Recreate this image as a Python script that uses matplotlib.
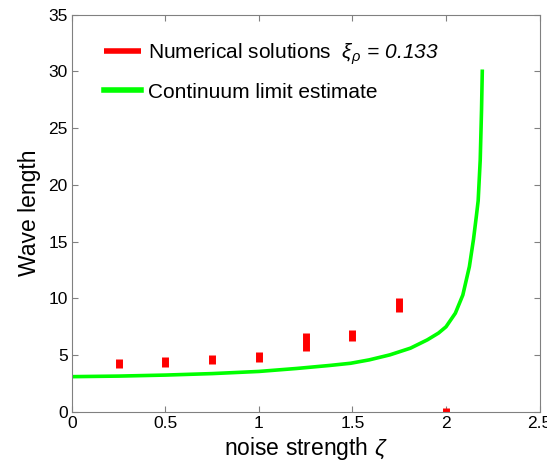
import numpy as np
import matplotlib.pyplot as plt

plt.rcParams['font.family'] = ['Liberation Sans', 'DejaVu Sans']
plt.rcParams['mathtext.fontset'] = 'custom'
plt.rcParams['mathtext.it'] = 'Liberation Sans:italic'
plt.rcParams['mathtext.rm'] = 'Liberation Sans:italic'

# numerical solutions: noise strength and wave length range (low, high)
zeta_num = [0.25, 0.5, 0.75, 1.0, 1.25, 1.5, 1.75, 2.0]
wl_low = [3.85, 3.94, 4.21, 4.41, 5.35, 6.26, 8.79, 0.0]
wl_high = [4.65, 4.88, 5.05, 5.29, 6.99, 7.26, 10.08, 0.33]

# continuum limit estimate
zeta_cont = [0.0, 0.25, 0.5, 0.75, 1.0, 1.2, 1.38, 1.49, 1.59, 1.7, 1.81, 1.9,
             1.96, 2.0, 2.05, 2.09, 2.125, 2.147, 2.162, 2.172, 2.183, 2.19, 2.194]
wl_cont = [3.11, 3.16, 3.25, 3.38, 3.57, 3.83, 4.1, 4.29, 4.59, 5.03, 5.62, 6.35,
           6.95, 7.5, 8.7, 10.3, 12.8, 15.2, 17.2, 18.6, 22.2, 26.6, 30.0]

fig = plt.figure(figsize=(5.47, 4.68), dpi=100)
ax = fig.add_axes([0.1316, 0.1197, 0.8547, 0.8493])

ax.vlines(zeta_num, wl_low, wl_high, color='#ff0000', lw=5,
          label=r'Numerical solutions  $\xi_\rho\,=\,0.133$')
ax.plot(zeta_cont, wl_cont, color='#00ff00', lw=2.6, solid_joinstyle='round',
        label='Continuum limit estimate')

ax.set_xlim(0, 2.5)
ax.set_ylim(0, 35)
ax.set_xticks([0, 0.5, 1, 1.5, 2, 2.5])
ax.set_xticklabels(['0', '0.5', '1', '1.5', '2', '2.5'])
ax.set_yticks(range(0, 36, 5))
ax.tick_params(direction='in', top=True, right=True, labelsize=12.5,
               length=4, color='#808080', pad=3)
for s in ax.spines.values():
    s.set_color('#808080')

ax.set_xlabel(r'noise strength $\zeta$', fontsize=16.5, labelpad=3)
ax.set_ylabel('Wave length', fontsize=16.5, labelpad=5)

leg = ax.legend(loc='upper left', frameon=False, fontsize=15,
                bbox_to_anchor=(0.068, 0.932), borderaxespad=0, borderpad=0,
                handlelength=1.8, labelspacing=0.75, handletextpad=0.3)
for h in leg.legend_handles:
    h.set_linewidth(4)

fig.savefig('out.png', dpi=100)
